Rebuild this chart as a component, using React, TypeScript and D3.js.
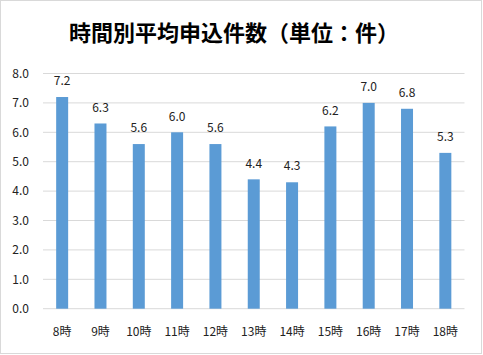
import React from "react";
import * as d3 from "d3";

const categories = ["8時", "9時", "10時", "11時", "12時", "13時", "14時", "15時", "16時", "17時", "18時"];
const values = [7.2, 6.3, 5.6, 6.0, 5.6, 4.4, 4.3, 6.2, 7.0, 6.8, 5.3];
const yTicks = [0, 1, 2, 3, 4, 5, 6, 7, 8];
const title = "時間別平均申込件数（単位：件）";

const W = 483;
const H = 355;
const left = 43;
const right = 464.5;
const top = 73.5;
const bottom = 308.7;
const font = "'Noto Sans CJK JP', 'Noto Sans', sans-serif";

export default function App() {
  const x = d3.scaleBand<string>().domain(categories).range([left, right]).paddingInner(0.687).paddingOuter(0.3435);
  const y = d3.scaleLinear().domain([0, 8]).range([bottom, top]);
  return (
    <svg width={W} height={H} style={{ position: "fixed", left: 0, top: 0, background: "#fff" }}>
      <rect x={0.5} y={0.5} width={W - 2} height={H - 2} fill="#fff" stroke="#d9d9d9" strokeWidth={1} />
      <text x={234} y={41} textAnchor="middle" fontFamily={font} fontWeight="bold" fontSize={22} fill="#000">
        {title}
      </text>
      {yTicks.map((t) => (
        <g key={t}>
          <line x1={left} x2={right} y1={y(t)} y2={y(t)} stroke="#d9d9d9" strokeWidth={1} />
          <text x={29} y={y(t)} dy="0.35em" textAnchor="end" fontFamily={font} fontSize={12} fill="#222">
            {d3.format(".1f")(t)}
          </text>
        </g>
      ))}
      {categories.map((c, i) => (
        <g key={c}>
          <rect x={x(c)} y={y(values[i])} width={x.bandwidth()} height={bottom - y(values[i])} fill="#5b9bd5" />
          <text x={(x(c) as number) + x.bandwidth() / 2} y={y(values[i]) - 16} dy="0.35em" textAnchor="middle" fontFamily={font} fontSize={12} fill="#222">
            {d3.format(".1f")(values[i])}
          </text>
          <text x={(x(c) as number) + x.bandwidth() / 2} y={332} dy="0.35em" textAnchor="middle" fontFamily={font} fontSize={12} fill="#222">
            {c}
          </text>
        </g>
      ))}
    </svg>
  );
}
